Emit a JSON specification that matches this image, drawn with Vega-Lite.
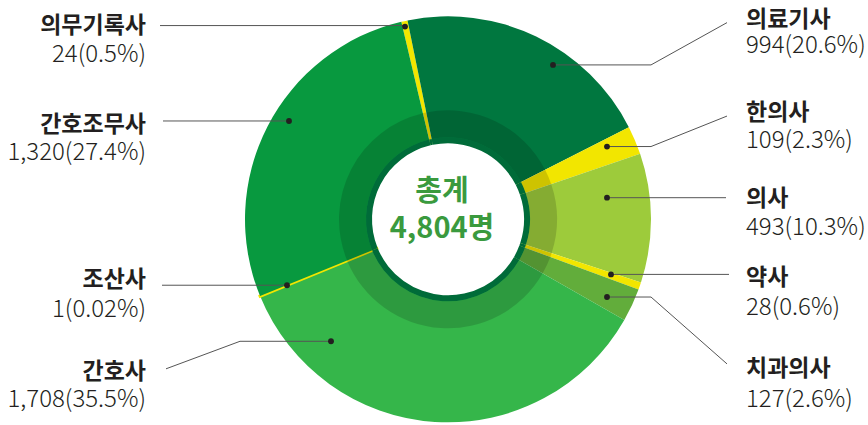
{
  "$schema": "https://vega.github.io/schema/vega-lite/v6.json",
  "width": 868,
  "height": 425,
  "autosize": {"type": "fit", "contains": "padding"},
  "padding": 0,
  "background": "#ffffff",
  "config": {"view": {"stroke": null}},
  "datasets": {
    "slices": [
      {"name": "의무기록사", "value": 24, "seq": 1},
      {"name": "의료기사", "value": 994, "seq": 2},
      {"name": "한의사", "value": 109, "seq": 3},
      {"name": "의사", "value": 493, "seq": 4},
      {"name": "약사", "value": 28, "seq": 5},
      {"name": "치과의사", "value": 127, "seq": 6},
      {"name": "간호사", "value": 1708, "seq": 7},
      {"name": "조산사", "value": 1, "seq": 8},
      {"name": "간호조무사", "value": 1320, "seq": 9}
    ],
    "segments": [
      {"name": "의무기록사", "x": 160, "y": 26, "x2": 405, "y2": 26},
      {"name": "간호조무사", "x": 163, "y": 123, "x2": 289, "y2": 123},
      {"name": "조산사", "x": 162, "y": 290, "x2": 287, "y2": 290},
      {"name": "간호사", "x": 166, "y": 375, "x2": 240, "y2": 347},
      {"name": "간호사", "x": 240, "y": 347, "x2": 331, "y2": 347},
      {"name": "의료기사", "x": 727, "y": 23, "x2": 651, "y2": 66},
      {"name": "의료기사", "x": 651, "y": 66, "x2": 553, "y2": 66},
      {"name": "한의사", "x": 727, "y": 118, "x2": 651, "y2": 149},
      {"name": "한의사", "x": 651, "y": 149, "x2": 607, "y2": 149},
      {"name": "의사", "x": 726, "y": 201, "x2": 607, "y2": 201},
      {"name": "약사", "x": 729, "y": 279, "x2": 611, "y2": 279},
      {"name": "치과의사", "x": 727, "y": 370, "x2": 651, "y2": 302},
      {"name": "치과의사", "x": 651, "y": 302, "x2": 607, "y2": 302}
    ],
    "dots": [
      {"name": "의무기록사", "x": 405, "y": 27},
      {"name": "간호조무사", "x": 289, "y": 123},
      {"name": "조산사", "x": 287, "y": 290},
      {"name": "간호사", "x": 331, "y": 347},
      {"name": "의료기사", "x": 553, "y": 66},
      {"name": "한의사", "x": 607, "y": 149},
      {"name": "의사", "x": 607, "y": 201},
      {"name": "약사", "x": 611, "y": 279},
      {"name": "치과의사", "x": 607, "y": 302}
    ],
    "labels": [
      {"name": "의무기록사", "sub": "24(0.5%)", "side": "left", "x": 146, "yName": 34, "yVal": 63},
      {"name": "간호조무사", "sub": "1,320(27.4%)", "side": "left", "x": 146, "yName": 134, "yVal": 163},
      {"name": "조산사", "sub": "1(0.02%)", "side": "left", "x": 146, "yName": 292, "yVal": 322},
      {"name": "간호사", "sub": "1,708(35.5%)", "side": "left", "x": 146, "yName": 385, "yVal": 414},
      {"name": "의료기사", "sub": "994(20.6%)", "side": "right", "x": 746, "yName": 27, "yVal": 54},
      {"name": "한의사", "sub": "109(2.3%)", "side": "right", "x": 746, "yName": 122, "yVal": 150},
      {"name": "의사", "sub": "493(10.3%)", "side": "right", "x": 746, "yName": 209, "yVal": 239},
      {"name": "약사", "sub": "28(0.6%)", "side": "right", "x": 746, "yName": 290, "yVal": 320},
      {"name": "치과의사", "sub": "127(2.6%)", "side": "right", "x": 746, "yName": 382, "yVal": 414}
    ],
    "center": [
      {"text": "총계", "x": 442, "y": 204},
      {"text": "4,804명", "x": 442, "y": 242}
    ]
  },
  "layer": [
    {
      "data": {"name": "slices"},
      "mark": {"type": "arc", "outerRadius": 203, "innerRadius": 77, "strokeWidth": 3},
      "encoding": {
        "x": {"datum": 448, "type": "quantitative", "scale": {"domain": [0, 868], "nice": false, "zero": false}, "axis": null},
        "y": {"datum": 223, "type": "quantitative", "scale": {"domain": [0, 425], "reverse": true, "nice": false, "zero": false}, "axis": null},
        "theta": {"field": "value", "type": "quantitative", "stack": true, "scale": {"range": [-0.2321, 6.0511]}},
        "order": {"field": "seq", "type": "quantitative"},
        "color": {
          "field": "name", "type": "nominal", "legend": null,
          "scale": {
            "domain": ["의무기록사", "의료기사", "한의사", "의사", "약사", "치과의사", "간호사", "조산사", "간호조무사"],
            "range": ["#F2E600", "#00773F", "#F2E600", "#9DCB3B", "#F2E600", "#62AD3B", "#35B64A", "#F2E600", "#08993F"]
          }
        },
        "stroke": {"condition": {"test": "datum.name === '조산사'", "value": "#F2E600"}, "value": "transparent"}
      }
    },
    {
      "data": {"name": "slices"},
      "mark": {"type": "arc", "outerRadius": 109, "innerRadius": 82, "color": "#000000", "opacity": 0.15},
      "encoding": {
        "x": {"datum": 448, "type": "quantitative"},
        "y": {"datum": 223, "type": "quantitative"},
        "theta": {"field": "value", "type": "quantitative", "stack": true},
        "order": {"field": "seq", "type": "quantitative"}
      }
    },
    {
      "data": {"name": "slices"},
      "mark": {"type": "arc", "outerRadius": 82, "innerRadius": 76, "color": "#006B39"},
      "encoding": {
        "x": {"datum": 448, "type": "quantitative"},
        "y": {"datum": 223, "type": "quantitative"},
        "theta": {"field": "value", "type": "quantitative", "stack": true},
        "order": {"field": "seq", "type": "quantitative"}
      }
    },
    {
      "data": {"name": "segments"},
      "mark": {"type": "rule", "color": "#555555", "strokeWidth": 1},
      "encoding": {
        "x": {"field": "x", "type": "quantitative"},
        "y": {"field": "y", "type": "quantitative"},
        "x2": {"field": "x2"},
        "y2": {"field": "y2"}
      }
    },
    {
      "data": {"name": "dots"},
      "mark": {"type": "point", "filled": true, "color": "#231F20", "size": 34, "opacity": 1},
      "encoding": {
        "x": {"field": "x", "type": "quantitative"},
        "y": {"field": "y", "type": "quantitative"}
      }
    },
    {
      "data": {"name": "labels"},
      "transform": [{"filter": "datum.side === 'left'"}],
      "mark": {"type": "text", "align": "right", "baseline": "alphabetic", "font": "Noto Sans CJK KR", "fontSize": 23, "fontWeight": "bold", "color": "#231F20"},
      "encoding": {
        "x": {"field": "x", "type": "quantitative"},
        "y": {"field": "yName", "type": "quantitative"},
        "text": {"field": "name"}
      }
    },
    {
      "data": {"name": "labels"},
      "transform": [{"filter": "datum.side === 'left'"}],
      "mark": {"type": "text", "align": "right", "baseline": "alphabetic", "font": "Noto Sans CJK KR", "fontSize": 24, "fontWeight": 300, "color": "#231F20"},
      "encoding": {
        "x": {"field": "x", "type": "quantitative"},
        "y": {"field": "yVal", "type": "quantitative"},
        "text": {"field": "sub"}
      }
    },
    {
      "data": {"name": "labels"},
      "transform": [{"filter": "datum.side === 'right'"}],
      "mark": {"type": "text", "align": "left", "baseline": "alphabetic", "font": "Noto Sans CJK KR", "fontSize": 23, "fontWeight": "bold", "color": "#231F20"},
      "encoding": {
        "x": {"field": "x", "type": "quantitative"},
        "y": {"field": "yName", "type": "quantitative"},
        "text": {"field": "name"}
      }
    },
    {
      "data": {"name": "labels"},
      "transform": [{"filter": "datum.side === 'right'"}],
      "mark": {"type": "text", "align": "left", "baseline": "alphabetic", "font": "Noto Sans CJK KR", "fontSize": 24, "fontWeight": 300, "color": "#231F20"},
      "encoding": {
        "x": {"field": "x", "type": "quantitative"},
        "y": {"field": "yVal", "type": "quantitative"},
        "text": {"field": "sub"}
      }
    },
    {
      "data": {"name": "center"},
      "mark": {"type": "text", "align": "center", "baseline": "alphabetic", "font": "Noto Sans CJK KR", "fontSize": 29, "fontWeight": "bold", "color": "#3A9A3E"},
      "encoding": {
        "x": {"field": "x", "type": "quantitative"},
        "y": {"field": "y", "type": "quantitative"},
        "text": {"field": "text"}
      }
    }
  ]
}
